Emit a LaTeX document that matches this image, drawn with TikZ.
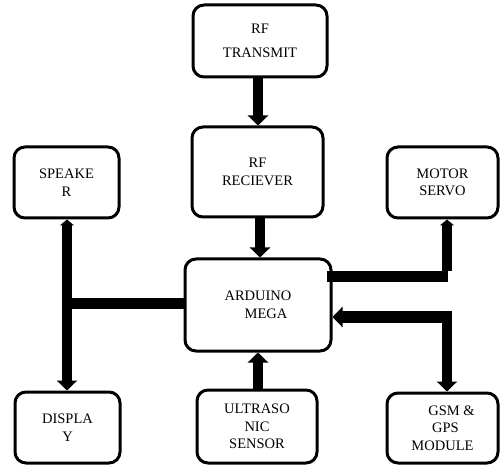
\documentclass[tikz,border=0pt]{standalone}
\usepackage{fontspec}
\setmainfont{Liberation Serif}
\usetikzlibrary{arrows.meta}
\tikzset{
  blockbox/.style={draw=black, line width=3pt, rounded corners=11pt, fill=white,
    align=center, inner sep=0pt, font=\fontsize{14.5}{17.5}\selectfont},
  bus/.style={draw=black, line width=10pt},
  hbus/.style={draw=black, line width=11pt},
  bigtip/.style={-{Triangle[width=20pt,length=10pt]}},
  smalltip/.style={-{Triangle[width=14pt,length=6pt]}},
}
\begin{document}
\begin{tikzpicture}[x=1pt,y=-1pt]
\useasboundingbox (0,0) rectangle (501,465);

% boxes
\node[blockbox, minimum width=134pt, minimum height=72pt] (tx) at (260,41)
  {RF\\[6pt]TRANSMIT};
\node[blockbox, minimum width=131pt, minimum height=90pt] (rx) at (257.5,172)
  {RF\\RECIEVER};
\node[blockbox, minimum width=105pt, minimum height=71pt] (spk) at (66.5,182.5)
  {SPEAKE\\R};
\node[blockbox, minimum width=111pt, minimum height=71pt] (mot) at (442.5,182.5)
  {MOTOR\\SERVO};
\node[blockbox, minimum width=146pt, minimum height=92pt] (ard) at (258,305)
  {ARDUINO\\\hspace*{16pt}MEGA};
\node[blockbox, minimum width=105pt, minimum height=71pt] (dsp) at (67.5,427.5)
  {DISPLA\\Y};
\node[blockbox, minimum width=120pt, minimum height=73pt] (ult) at (257,426.5)
  {ULTRASO\\NIC\\SENSOR};
\node[blockbox, minimum width=111pt, minimum height=70pt] (gsm) at (442.5,428)
  {\hspace*{18pt}GSM \&\\\hspace*{6pt}GPS\\MODULE};

% connector columns and junctions
\coordinate (c1) at (258,0);
\coordinate (c2) at (260,0);
\coordinate (c3) at (258,0);
\coordinate (lj) at (67,304);
\coordinate (mj) at (447,277);
\coordinate (gj) at (447,317);

% connectors
\draw[bus, bigtip] (c1 |- tx.south) -- (c1 |- rx.north);
\draw[bus, bigtip] (c2 |- rx.south) -- (c2 |- ard.north);
\draw[bus, bigtip] (c3 |- ult.north) -- (c3 |- ard.south);

% left: speaker / display
\draw[hbus] (ard.west |- lj) -- (lj);
\draw[bus, {Triangle[width=14pt,length=6pt]}-{Triangle[width=20pt,length=10pt]}]
  (lj |- spk.south) -- (lj |- dsp.north);

% right: motor servo
\draw[hbus, line cap=rect] (ard.east |- mj) -- ([xshift=-5pt]mj);
\draw[bus, smalltip] ([yshift=5.5pt]mj) -- (mj |- mot.south);

% right: GSM & GPS
\draw[hbus, bigtip] ([xshift=5pt]gj) -- (ard.east |- gj);
\draw[bus, bigtip] ([yshift=-5.5pt]gj) -- (gj |- gsm.north);
\end{tikzpicture}
\end{document}
